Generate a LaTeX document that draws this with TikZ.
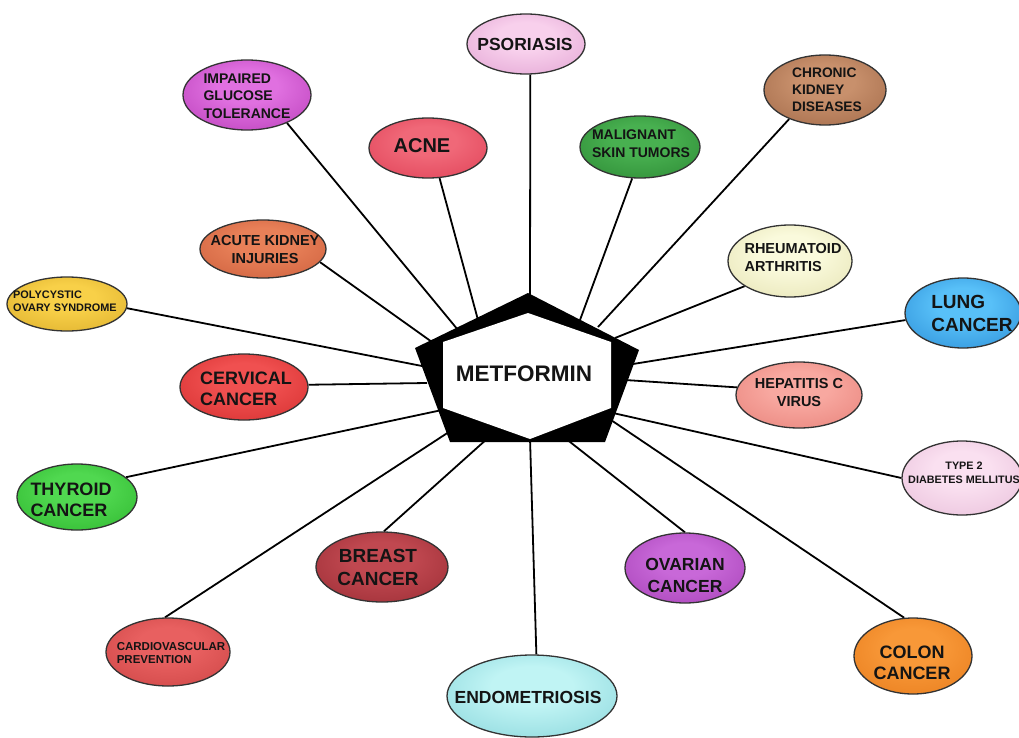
\documentclass[tikz,border=0pt]{standalone}
\usepackage{fontspec}
\setmainfont{Liberation Sans}
\usetikzlibrary{shapes.geometric,backgrounds}
\colorlet{ellin}{white}
\colorlet{ellout}{gray}
\pgfdeclareradialshading[ellin,ellout]{ellshade}{\pgfpoint{0bp}{8bp}}{color(0bp)=(ellin); color(12bp)=(ellin); color(50bp)=(ellout)}
\tikzset{
  ell/.style 2 args={ellipse, draw=black!80, line width=1.3pt, inner sep=0pt,
     /utils/exec={\definecolor{ellin}{HTML}{#1}\definecolor{ellout}{HTML}{#2}}, shading=ellshade},
  tx/.style 2 args={font=\fontsize{#1}{#2}\selectfont\bfseries, text=black!92, inner sep=0pt},
  conn/.style={draw=black, line width=1.8pt}
}
\begin{document}
\begin{tikzpicture}[x=1pt,y=-1pt]
\useasboundingbox (0,0) rectangle (1019,738);
% central pentagon
\fill[black] (528,293) -- (639,350) -- (605,442) -- (450,442) -- (415,348) -- cycle;
\fill[white] (528,313) -- (611,342) -- (611,408) -- (530,439) -- (443,408) -- (443,342) -- cycle;
\node[tx={22.5}{26}] (met) at (524,374) {METFORMIN};
% end points on the pentagon
\coordinate (cpso) at (530,296);
\coordinate (cimp) at (458,330);
\coordinate (cacne) at (478,320);
\coordinate (cmal) at (580,320);
\coordinate (cckd) at (598,327);
\coordinate (caki) at (432,342);
\coordinate (cra) at (615,338);
\coordinate (cpcos) at (422,366);
\coordinate (clung) at (633,364);
\coordinate (ccerv) at (427,383);
\coordinate (chep) at (625,380);
\coordinate (cthy) at (442,410);
\coordinate (ct2) at (613,413);
\coordinate (cbreast) at (488,438);
\coordinate (cova) at (565,438);
\coordinate (ccardio) at (455,428);
\coordinate (cendo) at (530,438);
\coordinate (ccolon) at (608,418);
% ellipses
\node[ell={f8d0ec}{d890c8}, minimum width=118pt, minimum height=60pt] (pso) at (526,44) {};
\node[ell={e070e0}{a828a8}, minimum width=128pt, minimum height=70pt] (imp) at (247,95) {};
\node[ell={f06878}{d83048}, minimum width=118pt, minimum height=60pt] (acne) at (428,148) {};
\node[ell={48b050}{207828}, minimum width=120pt, minimum height=62pt] (mal) at (640,147) {};
\node[ell={c8906c}{905838}, minimum width=122pt, minimum height=70pt] (ckd) at (825,90) {};
\node[ell={e88058}{c05030}, minimum width=126pt, minimum height=58pt] (aki) at (263,249) {};
\node[ell={fafadc}{dcd8a0}, minimum width=124pt, minimum height=72pt] (ra) at (790,261) {};
\node[ell={f8d048}{d0a020}, minimum width=120pt, minimum height=54pt] (pcos) at (67,304) {};
\node[ell={58c0f8}{1878c8}, minimum width=116pt, minimum height=70pt] (lung) at (963,313) {};
\node[ell={f05050}{c82020}, minimum width=128pt, minimum height=66pt] (cerv) at (244,387) {};
\node[ell={f8a8a0}{e07068}, minimum width=126pt, minimum height=66pt] (hep) at (799,395) {};
\node[ell={50d850}{20a820}, minimum width=120pt, minimum height=66pt] (thy) at (77,497) {};
\node[ell={fae0f0}{e0b0d0}, minimum width=120pt, minimum height=74pt] (t2) at (962,478) {};
\node[ell={c04850}{8a2028}, minimum width=132pt, minimum height=70pt] (breast) at (382,567) {};
\node[ell={c868d8}{9830a8}, minimum width=120pt, minimum height=70pt] (ova) at (685,568) {};
\node[ell={e86060}{c03838}, minimum width=124pt, minimum height=68pt] (cardio) at (168,652) {};
\node[ell={c0f4f4}{70c8d0}, minimum width=170pt, minimum height=82pt] (endo) at (532,696) {};
\node[ell={f89838}{e07010}, minimum width=118pt, minimum height=76pt] (colon) at (913,656) {};
% texts
\node[tx={17.5}{20}] (tpso) at (525,44) {PSORIASIS};
\node[tx={14}{17.5}, align=left] (timp) at (247,96) {IMPAIRED\\GLUCOSE\\TOLERANCE};
\node[tx={20}{22}] (tacne) at (422,146) {ACNE};
\node[tx={14}{18}, align=left] (tmal) at (641,144) {MALIGNANT\\SKIN TUMORS};
\node[tx={13.8}{17}, align=left] (tckd) at (827,90) {CHRONIC\\KIDNEY\\DISEASES};
\node[tx={14.5}{18}, align=center] (taki) at (265,250) {ACUTE KIDNEY\\INJURIES};
\node[tx={14.5}{18}, align=left] (tra) at (793,258) {RHEUMATOID\\ARTHRITIS};
\node[tx={10.9}{13}, align=left] (tpcos) at (65,301) {POLYCYSTIC\\OVARY SYNDROME};
\node[tx={19}{23}, align=left] (tlung) at (972,313) {LUNG\\CANCER};
\node[tx={18}{21}, align=left] (tcerv) at (246,389) {CERVICAL\\CANCER};
\node[tx={14.5}{18}, align=center] (thep) at (799,393) {HEPATITIS C\\VIRUS};
\node[tx={18}{21}, align=left] (tthy) at (71,500) {THYROID\\CANCER};
\node[tx={10.8}{14}, align=center] (tt2) at (964,473) {TYPE 2\\DIABETES MELLITUS};
\node[tx={19}{23}, align=center] (tbreast) at (378,567) {BREAST\\CANCER};
\node[tx={17.5}{22}, align=center] (tova) at (685,575) {OVARIAN\\CANCER};
\node[tx={11.5}{13}, align=left] (tcardio) at (171,653) {CARDIOVASCULAR\\PREVENTION};
\node[tx={17.5}{20}] (tendo) at (528,697) {ENDOMETRIOSIS};
\node[tx={18}{21}, align=center] (tcolon) at (912,663) {COLON\\CANCER};
% connectors
\begin{scope}[on background layer]
\fill[white] (0,0) rectangle (1019,738);
\draw[conn] (pso.-82) -- (cpso);
\draw[conn] (imp.-35) -- (cimp);
\draw[conn] (acne.-69) -- (cacne);
\draw[conn] (mal.-104) -- (cmal);
\draw[conn] (ckd.-141) -- (cckd);
\draw[conn] (aki.-13) -- (caki);
\draw[conn] (ra.-151) -- (cra);
\draw[conn] (pcos.-4) -- (cpcos);
\draw[conn] (lung.-173) -- (clung);
\draw[conn] (cerv.2) -- (ccerv);
\draw[conn] (hep.173) -- (chep);
\draw[conn] (thy.22) -- (cthy);
\draw[conn] (t2.180) -- (ct2);
\draw[conn] (breast.87) -- (cbreast);
\draw[conn] (ova.90) -- (cova);
\draw[conn] (cardio.95) -- (ccardio);
\draw[conn] (endo.84) -- (cendo);
\draw[conn] (colon.103) -- (ccolon);
\end{scope}
\end{tikzpicture}
\end{document}
